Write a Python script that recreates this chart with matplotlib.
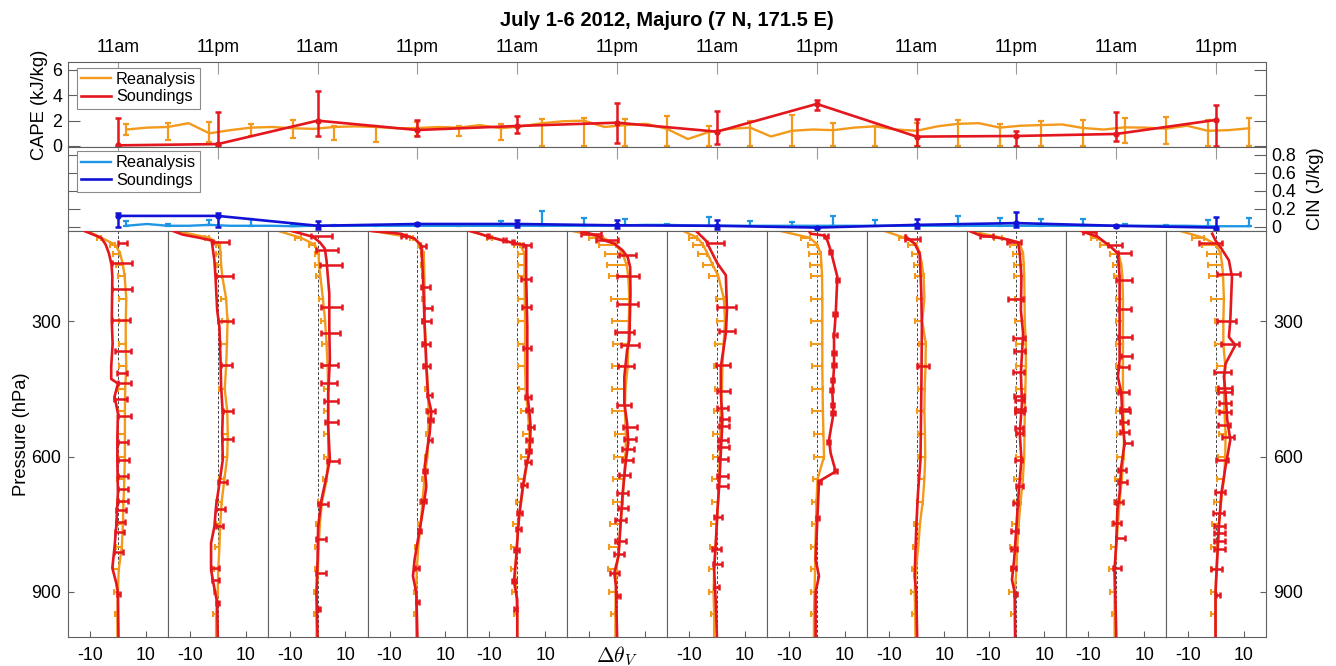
import numpy as np
import matplotlib.pyplot as plt

plt.rcParams['font.family'] = ['Liberation Sans', 'DejaVu Sans']
plt.rcParams['mathtext.fontset'] = 'cm'
plt.rcParams['axes.unicode_minus'] = False

ORANGE = '#F39A1C'
RED = '#E3171D'
BLUE = '#1212D6'
LBLUE = '#1E96E4'
AXC = '#606060'

# sounding times (hours after 5am July 1) and labels
snd_t = [6, 18, 30, 42, 54, 66, 78, 90, 102, 114, 126, 138]
time_labels = ['11am', '11pm'] * 6

# CAPE (kJ/kg)
snd_cape = [0.05, 0.15, 2.0, 1.26, 1.58, 1.84, 1.13, 3.32, 0.74, 0.79, 0.95, 2.06]
snd_cape_lo = [0.05, 0.15, 1.25, 0.46, 0.58, 1.58, 0.97, 0.47, 0.74, 0.79, 0.53, 2.06]
snd_cape_hi = [2.15, 2.55, 2.35, 0.8, 0.8, 1.58, 1.64, 0.32, 1.4, 0.42, 1.76, 1.18]

rea_t = np.arange(7, 143, 2.5)
rea_cape = [1.3, 1.45, 1.5, 1.8, 1.0, 1.25, 1.45, 1.5, 1.4, 1.35,
            1.5, 1.55, 1.5, 1.4, 1.42, 1.5, 1.45, 1.65, 1.4, 1.55,
            1.8, 1.95, 2.0, 1.5, 1.65, 1.75, 1.35, 0.55, 1.1, 1.35,
            1.45, 0.75, 1.2, 1.3, 1.25, 1.45, 1.55, 1.3, 1.2, 1.55,
            1.75, 1.8, 1.45, 1.6, 1.65, 1.7, 1.42, 1.3, 1.47, 1.45,
            1.37, 1.6, 1.2, 1.25, 1.4]
# error bars every second reanalysis point
rea_cape_lo = [0.45, 1.0, 0.66, 0.7, 0.77, 1.05, 1.15, 0.6, 0.66, 0.93, 1.8, 2.0, 1.65, 1.35,
               1.1, 1.45, 1.2, 1.25, 1.55, 1.2, 1.75, 1.45, 1.65, 1.42, 1.2, 1.2, 1.2, 1.4]
rea_cape_hi = [0.45, 0.3, 0.92, 0.3, 0.66, 0.1, 0.1, 0.5, 0.13, 0.34, 0.3, 0.2, 0.45, 1.0,
               0.5, 0.55, 1.25, 0.6, 0.05, 0.6, 0.3, 0.3, 0.35, 0.64, 0.75, 0.95, 0.85, 0.8]

# CIN
snd_cin = [0.12, 0.12, 0.01, 0.03, 0.03, 0.015, 0.01, -0.01, 0.02, 0.04, 0.01, -0.01]
snd_cin_lo = [0.12, 0.12, 0.04, 0.01, 0.03, 0.03, 0.04, 0.005, 0.03, 0.04, 0.01, 0.03]
snd_cin_hi = [0.03, 0.03, 0.05, 0.01, 0.04, 0.055, 0.06, 0.005, 0.06, 0.12, 0.01, 0.12]

rea_cin = [0.01, 0.03, 0.01, 0.01, 0.02, 0.01, 0.01, 0.01, 0.005, 0.01,
           0.01, 0.01, 0.01, 0.01, 0.01, 0.01, 0.01, 0.01, 0.01, 0.01,
           0.01, 0.01, 0.01, 0.01, 0.015, 0.02, 0.02, 0.015, 0.01, 0.01,
           0.01, 0.01, 0.01, 0.01, 0.01, 0.01, 0.01, 0.01, 0.01, 0.01,
           0.01, 0.01, 0.01, 0.01, 0.01, 0.01, 0.01, 0.01, 0.01, 0.01,
           0.01, 0.01, 0.005, 0.005, 0.005]
rea_cin_hi = [0.05, 0.02, 0.05, 0.07, 0.01, 0.01, 0.01, 0.01, 0.01, 0.05, 0.16, 0.09, 0.07, 0.01,
              0.10, 0.05, 0.04, 0.11, 0.06, 0.02, 0.11, 0.09, 0.08, 0.07, 0.02, 0.01, 0.07, 0.09]

# profiles: reanalysis on fixed pressure levels (hPa)
plev = [100, 115, 130, 150, 175, 200, 250, 300, 350, 400, 450, 500, 550, 600, 650, 700,
        750, 800, 850, 900, 950, 1000]
rea_prof = [
    [-11, -6, -1, 0.8, 1.8, 2.4, 3.0, 2.8, 2.8, 3.0, 2.6, 2.5, 2.5, 2.5, 2.3, 2.0, 1.8, 1.4, 0.3, 0, -0.2, -0.2],
    [-15, -3, 0.7, 1.0, 1.2, 1.6, 3.0, 3.5, 3.3, 3.0, 2.5, 3.4, 3.6, 3.4, 2.4, 1.4, 0.9, 0.6, 0.2, 0, -0.6, -0.6],
    [-14, -6, -1.0, 0.4, 0.5, 1.0, 1.9, 2.7, 3.2, 3.6, 3.8, 3.8, 3.8, 3.8, 3.3, 1.6, 0.8, 0.4, 0.1, -0.3, -0.4, -0.4],
    [-16, -1.5, 1.2, 2.2, 2.4, 2.5, 2.6, 2.6, 3.0, 3.3, 3.8, 4.0, 3.9, 3.6, 2.5, 1.8, 1.2, 0.3, -0.2, -0.4, -0.4, -0.4],
    [-17, -9, 1.0, 2.6, 2.6, 2.6, 2.7, 2.8, 2.8, 2.8, 3.0, 3.8, 4.4, 4.0, 2.6, 1.4, 0.3, -0.2, -0.8, -0.4, 0, 0],
    [-16, -5, -0.5, 2.0, 3.4, 4.0, 4.4, 4.2, 4.0, 3.8, 3.0, 2.8, 3.2, 3.0, 2.4, 2.0, 1.2, 0.7, -0.2, -0.5, -0.6, -0.6],
    [-12, -7, -5, -3.4, -1.5, 0.5, 2.5, 2.9, 2.4, 2.0, 1.8, 1.4, 1.2, 1.0, 0.8, 0.4, 0, -0.5, -1.0, -1.2, -1.0, -1.0],
    [-13, -2.5, 0.2, 1.4, 1.7, 1.9, 2.0, 2.0, 2.0, 2.0, 2.1, 2.2, 2.4, 2.6, 0.3, -0.1, -0.3, -0.5, -0.6, -0.8, -1.0, -1.0],
    [-11.5, -4.3, 0, 1.2, 1.9, 2.5, 2.8, 2.0, 3.3, 3.2, 2.9, 2.8, 3.0, 3.1, 2.8, 2.2, 1.2, 0.6, -0.2, -0.7, -0.5, -0.4],
    [-16.8, -5, 1.3, 2.4, 2.6, 2.8, 2.9, 3.0, 3.4, 3.4, 3.2, 3.0, 2.9, 2.8, 2.3, 1.5, 0.8, 0.3, 0, -0.6, -0.6, -0.6],
    [-12, -7, -3, 0.8, 1.8, 2.2, 2.4, 2.4, 2.4, 2.4, 2.4, 2.5, 2.8, 2.6, 2.0, 1.2, 0.6, 0, -0.6, -0.6, -0.6, -0.6],
    [-12.8, -4.5, 0, 1.6, 2.2, 2.5, 2.8, 2.6, 2.6, 3.3, 2.8, 3.0, 3.4, 3.3, 2.8, 1.8, 1.0, 0.5, 0.1, -0.2, -0.2, -0.2],
]
rea_prof_err = [
    [0, 1.5, 2, 2.5, 2.5, 2.5, 2.5, 2.5, 2.5, 2.5, 2.5, 2.5, 2.5, 2.5, 2.5, 2.5, 2.2, 2, 2, 1.5, 1, 0],
    [0, 1.5, 1.5, 1.5, 1.5, 2, 2, 2, 2, 2, 2, 2, 2, 2, 2, 2, 1.5, 1.5, 1.5, 1.2, 1, 0],
    [0, 2, 2, 1.5, 1.5, 1.5, 1.5, 1.5, 1.5, 1.5, 1.5, 1.5, 1.5, 1.5, 1.5, 1.5, 1.2, 1.2, 1.2, 1, 1, 0],
    [0, 1, 1, 1, 1, 1, 1, 1, 1, 1, 1, 1, 1, 1, 1, 1, 1, 1, 1, 1, 0.8, 0],
    [0, 2, 2, 2.5, 2.5, 2.5, 2.5, 2.5, 2.5, 2.5, 2.5, 2.5, 2.5, 2.5, 2.5, 2, 2, 2, 1.5, 1.5, 1, 0],
    [0, 5, 6, 6.5, 7, 7, 6.5, 6, 5.5, 5.5, 5, 4.5, 4, 4, 3.8, 3.6, 3.6, 3.6, 3.2, 2.5, 1.5, 0],
    [0, 3, 3.5, 3.5, 3.5, 3.5, 3, 3, 3, 3, 2.5, 2.5, 2.5, 2.5, 2.5, 2.2, 2, 2, 2, 1.5, 1, 0],
    [0, 3, 3.5, 4, 4, 4, 4, 4, 4, 3.8, 3.8, 3.8, 3.5, 3.5, 1.5, 1.5, 1.5, 1.5, 1.5, 1.2, 1, 0],
    [0, 2, 3, 3, 3, 3, 2.5, 2.5, 2.5, 2.5, 2.5, 2.5, 2.5, 2.5, 2.2, 2, 2, 2, 1.5, 1.2, 1, 0],
    [0, 3, 3.5, 3.5, 3.5, 3.5, 3.5, 3.5, 3.5, 3.5, 3.5, 3.5, 3, 3, 3, 2.5, 2.5, 2.5, 2, 2, 1.5, 0],
    [0, 2, 3, 3, 3, 3, 2.5, 2.5, 2.5, 2.5, 2.5, 2.5, 2.5, 2.5, 2.5, 2, 2, 2, 2, 1.5, 1, 0],
    [0, 4, 5, 5, 5, 5, 4.5, 3, 3, 3, 3, 3, 2.5, 2.5, 2.5, 2.5, 2.5, 2.2, 2, 1.8, 1.5, 0],
]

# soundings: profile line (pressure, dtheta_v)
snd_p = [
    [100, 115, 130, 150, 175, 200, 250, 300, 350, 400, 428, 438, 467, 504, 560, 610, 680, 755, 800, 847, 880, 902, 1000],
    [100, 108, 115, 121, 165, 202, 276, 313, 386, 445, 504, 548, 607, 659, 710, 755, 792, 850, 873, 924, 1000],
    [100, 113, 125, 139, 165, 239, 313, 386, 460, 534, 607, 644, 696, 755, 828, 902, 1000],
    [100, 106, 117, 132, 202, 313, 401, 467, 500, 548, 622, 666, 718, 762, 828, 865, 902, 1000],
    [100, 105, 113, 122, 127, 132, 202, 313, 460, 504, 534, 592, 622, 666, 725, 770, 828, 876, 917, 1000],
    [100, 110, 121, 128, 143, 158, 180, 239, 342, 364, 423, 482, 526, 570, 607, 681, 755, 821, 858, 887, 1000],
    [100, 121, 143, 172, 198, 276, 327, 401, 460, 519, 592, 666, 718, 792, 850, 924, 1000],
    [100, 106, 110, 121, 143, 202, 283, 335, 401, 460, 504, 563, 593, 633, 655, 740, 828, 865, 900, 1000],
    [110, 113, 128, 150, 239, 313, 460, 607, 681, 755, 865, 902, 1000],
    [100, 110, 113, 119, 125, 150, 202, 276, 327, 416, 482, 548, 607, 681, 755, 828, 873, 902, 1000],
    [100, 113, 136, 150, 202, 386, 423, 460, 534, 570, 622, 681, 718, 792, 850, 939, 1000],
    [106, 121, 136, 165, 202, 298, 335, 353, 394, 423, 460, 519, 563, 622, 681, 755, 828, 902, 1000],
]
snd_v = [
    [-12, -6, -4.4, -3.2, -2.3, -2.0, -2.1, -2.2, -1.9, -2.4, -2.4, 0, -1.2, 0, -0.2, -0.2, 0, -0.6, -1.2, -2, -0.6, 0, 0.2],
    [-16, -12.6, -6.6, -2.2, -1.2, -0.8, -0.2, 0.6, 1.0, 1.2, 1.8, 1.6, 1.8, 0.6, -0.6, -1.2, -2.4, -2.4, -1.8, -0.2, 0],
    [-9.3, -1.6, 0.8, 2.6, 3.2, 4.2, 4.2, 4.4, 3.8, 3.8, 4.4, 3.2, 1.4, 0.2, 0, -0.4, 0],
    [-16.5, -6, -1, 1.4, 2, 2.6, 3.2, 3.8, 5.0, 4.4, 2.6, 3.2, 2.0, 0.8, -1.0, -1.6, -0.4, 0],
    [-17, -14, -10, -4.5, -1, 3.2, 3.2, 3.6, 3.6, 4.4, 4.8, 4.4, 3.2, 2.0, 0.8, 0.2, -0.4, -1.2, 0, 0],
    [-12.9, -7.5, -4.5, -1, 2, 3.8, 4.7, 4.8, 4.4, 3.6, 2.6, 2.6, 3.6, 4.0, 3.2, 2.0, 1.2, 0.5, -1.0, -0.4, 0],
    [-7.5, -4, -2.2, 0.2, 3.2, 3.6, 3.2, 1.4, 1.4, 2.0, 1.4, 0.8, 0.2, -0.4, -1.0, -0.4, 0],
    [-2.8, -2.2, 2.6, 3.8, 5.0, 7.4, 6.8, 6.2, 6.2, 5.6, 6.0, 4.4, 5.0, 6.8, 0.8, 0.2, -0.4, 0.8, -0.4, -0.4],
    [-3.9, -3.7, -0.7, 1.1, 1.7, 1.9, 1.7, 1.4, 0.5, -0.1, -0.7, -0.1, 0.2],
    [-16.8, -13, -8.4, -3, 0.6, 1.2, 1.8, 1.6, 2.4, 1.6, 2.0, 1.2, 1.8, 0.8, 0, -0.8, -1.6, -0.6, -0.4],
    [-12.5, -6.6, -1.8, 0.6, 1.2, 1.2, 0.6, 1.8, 2.4, 3.0, 1.8, 1.2, 0.4, 0, -0.6, -0.2, 0],
    [-1.4, -0.2, 1.6, 4.6, 5.7, 5.1, 4.6, 6.9, 3.4, 2.8, 3.4, 4.0, 5.1, 3.4, 1.9, 1.0, 0.4, -0.2, -0.2],
]
# soundings: error bars (pressure, centre, half width)
bar_p = [
    [126, 171, 228, 298, 366, 414, 438, 472, 510, 567, 607, 643, 671, 699, 718, 746, 768, 812, 904],
    [125, 200, 300, 396, 499, 561, 657, 716, 755, 847, 873, 924],
    [112, 143, 176, 268, 327, 397, 438, 476, 523, 610, 705, 782, 859, 939],
    [110, 134, 224, 270, 299, 351, 399, 464, 499, 519, 563, 632, 699, 764, 847, 923],
    [112, 121, 125, 132, 206, 268, 359, 467, 497, 534, 563, 587, 613, 663, 725, 760, 808, 876, 939],
    [106, 121, 154, 200, 261, 324, 353, 400, 486, 534, 562, 584, 607, 641, 681, 714, 740, 788, 817, 858, 909],
    [126, 268, 322, 397, 455, 492, 517, 532, 563, 578, 606, 643, 665, 733, 805, 838, 890],
    [112, 147, 209, 285, 331, 371, 397, 430, 452, 486, 504, 567, 633, 657, 736],
    [117, 399],
    [110, 125, 250, 337, 366, 413, 466, 475, 494, 502, 536, 548, 607, 665, 703, 766, 806, 847, 904],
    [102, 130, 148, 209, 272, 335, 377, 401, 456, 495, 500, 524, 545, 569, 629, 657, 701, 747, 781, 847],
    [127, 196, 300, 351, 413, 447, 457, 482, 502, 530, 557, 607, 679, 725, 753, 769, 788, 806, 849, 908],
]
bar_v = [
    [1.7, 1.5, 1.5, 1.2, 1.7, 1.6, 2.4, 1.0, 2.3, 1.8, 2.0, 1.8, 1.8, 1.8, 1.2, 1.0, 0.5, 0.2, 0.1],
    [1.2, 2.3, 2.7, 3.1, 3.7, 3.5, 1.7, 0.9, 0.5, -0.9, -0.8, 0],
    [1.4, 3.5, 4.9, 5.0, 4.7, 4.3, 4.1, 4.9, 4.9, 5.6, 1.9, 1.1, 1.1, 0.4],
    [-4.9, 2.0, 2.8, 3.7, 3.2, 3.1, 3.2, 4.3, 5.0, 4.7, 4.6, 2.8, 2.3, 0.8, -0.2, -0.1],
    [-10.5, -4.6, -1.6, 3.5, 3.2, 3.2, 3.5, 3.7, 4.3, 4.9, 4.1, 4.0, 3.7, 2.4, 0.8, 0.5, -0.1, -1.1, -0.6],
    [-9.3, -3.7, 3.8, 4.0, 3.8, 2.8, 4.6, 3.2, 2.5, 4.6, 4.7, 4.0, 3.8, 2.8, 2.0, 2.0, 1.3, 1.3, 0.7, -0.8, 0.5],
    [-0.5, 3.5, 3.7, 2.2, 2.5, 2.0, 2.6, 2.6, 2.2, 2.5, 2.2, 1.9, 2.0, 0.5, -0.1, 0.2, -0.1],
    [3.4, 5.0, 7.4, 6.7, 6.5, 6.1, 6.1, 5.6, 5.4, 5.6, 5.7, 4.3, 6.8, 1.0, 0.2],
    [-1.3, 2.3],
    [-10.8, -0.8, -0.4, 1.0, 1.0, 0.7, 1.0, 1.1, 1.2, 1.1, 0.9, 1.0, 0.8, 1.0, -0.5, -0.6, -0.9, -1.1, -0.4],
    [-9.6, -0.5, 3.0, 2.8, 3.0, 3.2, 3.6, 2.7, 2.5, 3.0, 3.1, 2.7, 2.8, 4.3, 2.1, 2.2, 1.0, 0.3, 1.5, 0.3],
    [-1.9, 4.4, 3.8, 5.1, 2.3, 3.2, 3.2, 3.2, 3.2, 2.9, 4.4, 2.2, 1.4, 0.8, 1.3, 1.3, 1.3, 1.3, 0.2, 0.7],
]
bar_e = [
    [1.7, 3.5, 3.5, 3.2, 2.9, 1.8, 2.4, 2.4, 2.3, 1.8, 2.1, 1.9, 1.9, 1.9, 1.8, 1.6, 1.7, 1.6, 0.5],
    [3.0, 3.1, 2.7, 2.1, 1.9, 2.1, 1.5, 1.7, 1.3, 1.5, 1.4, 0.6],
    [3.6, 3.9, 4.0, 3.6, 3.3, 2.9, 2.7, 2.6, 2.3, 2.2, 1.9, 1.8, 1.8, 0.4],
    [0.9, 1.2, 1.6, 1.4, 1.6, 1.4, 1.2, 1.0, 1.4, 0.9, 0.7, 0.8, 0.9, 0.6, 0.7, 0.5],
    [0.4, 0.4, 0.4, 1.5, 1.8, 1.6, 1.5, 1.1, 1.1, 1.1, 1.1, 1.0, 1.1, 1.0, 0.8, 0.9, 0.9, 0.8, 0.6],
    [3.6, 3.9, 3.0, 4.0, 3.8, 3.4, 3.2, 3.0, 2.5, 2.5, 2.1, 2.2, 2.0, 2.0, 2.0, 1.8, 2.0, 1.9, 1.7, 1.6, 0.5],
    [3.1, 3.3, 2.8, 2.5, 2.3, 2.0, 1.6, 1.8, 1.9, 2.0, 1.9, 1.9, 1.8, 1.5, 1.5, 1.5, 0.9],
    [0.7, 0.6, 0.6, 0.7, 0.7, 0.7, 0.7, 0.6, 0.6, 0.6, 0.7, 0.5, 0.6, 0.7, 0.6],
    [2.7, 2.2],
    [2.4, 2.4, 2.6, 2.2, 2.0, 2.1, 1.8, 1.7, 1.8, 1.5, 1.5, 1.3, 1.2, 1.2, 0.9, 1.2, 1.1, 0.9, 0.6],
    [2.4, 2.5, 2.4, 2.8, 2.4, 2.4, 2.0, 1.9, 1.9, 1.6, 1.8, 1.5, 1.6, 1.5, 1.5, 1.6, 1.4, 1.5, 1.5, 1.5],
    [4.1, 4.0, 3.4, 3.2, 2.9, 2.6, 2.6, 2.3, 2.3, 2.2, 2.2, 2.1, 1.9, 2.0, 1.9, 1.9, 1.9, 1.9, 1.9, 0.6],
]

# ---------------- layout ----------------
W_PX, H_PX = 1336, 666
fig = plt.figure(figsize=(W_PX / 100, H_PX / 100), dpi=100)

left = 68 / W_PX
width = 1198 / W_PX
ax_cape = fig.add_axes([left, 1 - 147 / H_PX, width, 85 / H_PX])
ax_cin = fig.add_axes([left, 1 - 231 / H_PX, width, 84 / H_PX])

FS = 12.8

# CAPE panel
ax_cape.plot(rea_t, rea_cape, color=ORANGE, lw=1.7, zorder=2)
ax_cape.errorbar(rea_t[::2], rea_cape[::2], yerr=[rea_cape_lo, rea_cape_hi], fmt='none',
                 ecolor=ORANGE, elinewidth=1.6, capsize=2.5, capthick=1.6, zorder=2)
ax_cape.plot(snd_t, snd_cape, color=RED, lw=1.9, marker='o', ms=3.5, zorder=3)
ax_cape.errorbar(snd_t, snd_cape, yerr=[snd_cape_lo, snd_cape_hi], fmt='none',
                 ecolor=RED, elinewidth=1.8, capsize=2.5, capthick=1.8, zorder=3)
ax_cape.set_xlim(0, 144)
ax_cape.set_ylim(-0.08, 6.63)
ax_cape.set_yticks([0, 2, 4, 6])
ax_cape.set_xticks(snd_t)
ax_cape.set_xticklabels(time_labels)
ax_cape.tick_params(axis='x', direction='in', length=8.5, color='#999999', top=True, bottom=False,
                    labeltop=True, labelbottom=False, labelsize=FS, pad=4)
ax_cape.tick_params(axis='y', direction='in', length=8.5, color=AXC, left=True, right=True,
                    labelsize=FS, pad=4)
l1, = ax_cape.plot([], [], color=ORANGE, lw=1.7, label='Reanalysis')
l2, = ax_cape.plot([], [], color=RED, lw=1.9, label='Soundings')
leg = ax_cape.legend(handles=[l1, l2], loc='upper left', bbox_to_anchor=(0.0075, 0.93),
                     borderaxespad=0, fontsize=11.7, handlelength=1.85, handletextpad=0.3,
                     borderpad=0.25, labelspacing=0.15, fancybox=False, framealpha=1)
leg.get_frame().set_edgecolor('#8a8a8a')
leg.get_frame().set_linewidth(0.8)

# CIN panel
ax_cin.plot(rea_t, rea_cin, color=LBLUE, lw=1.7, zorder=2)
ax_cin.errorbar(rea_t[::2], rea_cin[::2], yerr=[np.zeros(len(rea_cin_hi)), rea_cin_hi], fmt='none',
                ecolor=LBLUE, elinewidth=1.6, capsize=2.5, capthick=1.6, zorder=2)
ax_cin.plot(snd_t, snd_cin, color=BLUE, lw=1.9, marker='o', ms=3.5, zorder=3)
ax_cin.errorbar(snd_t, snd_cin, yerr=[snd_cin_lo, snd_cin_hi], fmt='none',
                ecolor=BLUE, elinewidth=1.8, capsize=2.5, capthick=1.8, zorder=3)
ax_cin.set_xlim(0, 144)
ax_cin.set_ylim(-0.048, 0.886)
ax_cin.set_yticks([0, 0.2, 0.4, 0.6, 0.8])
ax_cin.set_yticklabels(['0', '0.2', '0.4', '0.6', '0.8'])
ax_cin.set_xticks(snd_t)
ax_cin.tick_params(axis='x', direction='in', length=8.5, color='#999999', top=True, bottom=False,
                   labeltop=False, labelbottom=False)
ax_cin.tick_params(axis='y', direction='in', length=8.5, color=AXC, left=True, right=True,
                   labelleft=False, labelright=True, labelsize=FS, pad=4)
l3, = ax_cin.plot([], [], color=LBLUE, lw=1.7, label='Reanalysis')
l4, = ax_cin.plot([], [], color=BLUE, lw=1.9, label='Soundings')
leg2 = ax_cin.legend(handles=[l3, l4], loc='upper left', bbox_to_anchor=(0.0075, 0.95),
                     borderaxespad=0, fontsize=11.7, handlelength=1.85, handletextpad=0.3,
                     borderpad=0.25, labelspacing=0.15, fancybox=False, framealpha=1)
leg2.get_frame().set_edgecolor('#8a8a8a')
leg2.get_frame().set_linewidth(0.8)

for ax in (ax_cape, ax_cin):
    for s in ax.spines.values():
        s.set_color(AXC)
        s.set_linewidth(0.8)

# profile panels
pw = width / 12
pb = 1 - 637 / H_PX
ph = 406 / H_PX
for k in range(12):
    ax = fig.add_axes([left + k * pw, pb, pw, ph])
    ax.axvline(0, color='#444444', lw=0.7, ls=(0, (3, 2)), zorder=1)
    rv = np.array(rea_prof[k])
    re = np.array(rea_prof_err[k])
    ax.plot(rv, plev, color=ORANGE, lw=1.7, zorder=2)
    ax.errorbar(rv[1:-1], plev[1:-1], xerr=[re[1:-1], np.zeros(len(re) - 2)], fmt='none',
                ecolor=ORANGE, elinewidth=1.5, capsize=2.2, capthick=1.5, zorder=2)
    ax.plot(snd_v[k], snd_p[k], color=RED, lw=1.9, zorder=4)
    ax.errorbar(bar_v[k], bar_p[k], xerr=bar_e[k], fmt='none', ecolor=RED,
                elinewidth=1.8, capsize=2.5, capthick=1.8, zorder=3)
    ax.set_xlim(-17.9, 17.9)
    ax.set_ylim(1000, 100)
    ax.set_xticks([-10, 10])
    if k == 5:
        ax.set_xticklabels(['', ''])
        ax.text(0.5, -19 / 406, r'$\Delta\theta_V$', transform=ax.transAxes,
                ha='center', va='center', fontsize=15.5)
    else:
        ax.set_xticklabels(['-10', '10'])
    ax.set_yticks([300, 600, 900])
    ax.tick_params(axis='x', direction='in', length=4, color=AXC, labelsize=FS, pad=7)
    if k == 0:
        ax.tick_params(axis='y', direction='in', length=4, color=AXC, labelsize=FS, pad=5,
                       left=True, right=False, labelleft=True)
    elif k == 11:
        ax.tick_params(axis='y', direction='in', length=4, color=AXC, labelsize=FS, pad=5,
                       left=False, right=True, labelleft=False, labelright=True)
    else:
        ax.tick_params(axis='y', left=False, labelleft=False)
    for s in ax.spines.values():
        s.set_color(AXC)
        s.set_linewidth(0.8)

# labels and title
fig.text(40 / W_PX, 1 - 105 / H_PX, 'CAPE (kJ/kg)', rotation=90, ha='center', va='center', fontsize=13.2)
fig.text(22 / W_PX, 1 - 434 / H_PX, 'Pressure (hPa)', rotation=90, ha='center', va='center', fontsize=13.2)
fig.text(1315 / W_PX, 1 - 189 / H_PX, 'CIN (J/kg)', rotation=90, ha='center', va='center', fontsize=13.2)
fig.text(667 / W_PX, 1 - 20 / H_PX, 'July 1-6 2012, Majuro (7 N, 171.5 E)', ha='center', va='center',
         fontsize=14.5, fontweight='bold')

fig.savefig('out.png', dpi=100)
